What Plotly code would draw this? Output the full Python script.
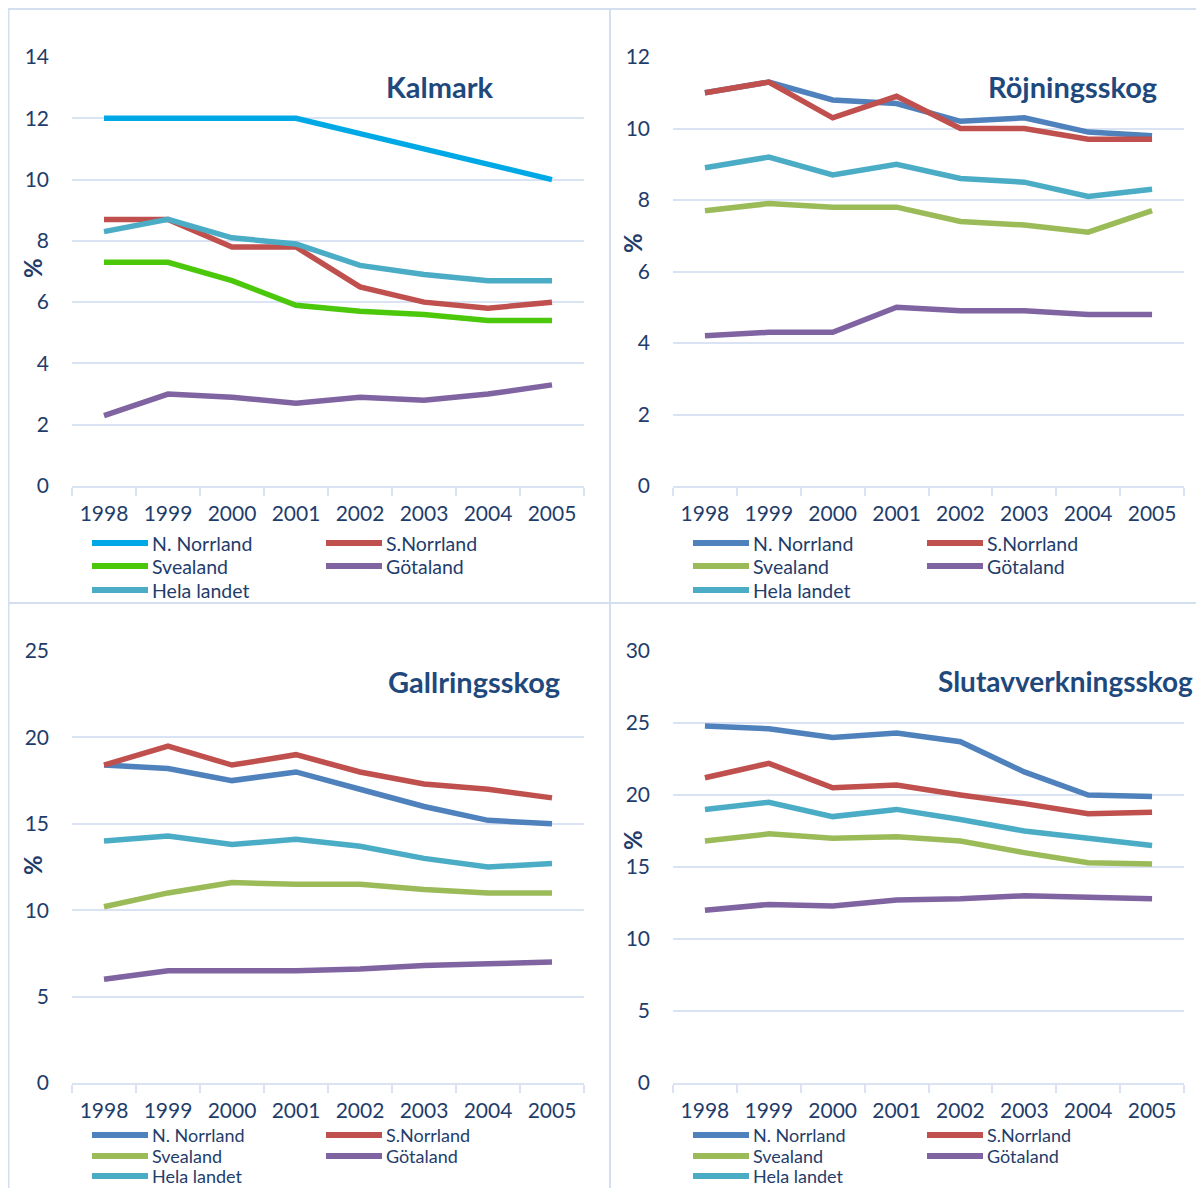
import plotly.graph_objects as go

# The page has an 8px body margin; the figure is sized to fit the window.
OFF = 8
W, H = 1204 - 2 * OFF, 1196 - 2 * OFF
MT, MB = 20, 20  # fixed top/bottom margins (autoexpand disabled)

years = ["1998", "1999", "2000", "2001", "2002", "2003", "2004", "2005"]
series_names = ["N. Norrland", "S.Norrland", "Svealand", "Götaland", "Hela landet"]

# Kalmark
kal_n_norrland = [12.0, 12.0, 12.0, 12.0, 11.5, 11.0, 10.5, 10.0]
kal_s_norrland = [8.7, 8.7, 7.8, 7.8, 6.5, 6.0, 5.8, 6.0]
kal_svealand = [7.3, 7.3, 6.7, 5.9, 5.7, 5.6, 5.4, 5.4]
kal_gotaland = [2.3, 3.0, 2.9, 2.7, 2.9, 2.8, 3.0, 3.3]
kal_hela = [8.3, 8.7, 8.1, 7.9, 7.2, 6.9, 6.7, 6.7]

# Röjningsskog
roj_n_norrland = [11.0, 11.3, 10.8, 10.7, 10.2, 10.3, 9.9, 9.8]
roj_s_norrland = [11.0, 11.3, 10.3, 10.9, 10.0, 10.0, 9.7, 9.7]
roj_svealand = [7.7, 7.9, 7.8, 7.8, 7.4, 7.3, 7.1, 7.7]
roj_gotaland = [4.2, 4.3, 4.3, 5.0, 4.9, 4.9, 4.8, 4.8]
roj_hela = [8.9, 9.2, 8.7, 9.0, 8.6, 8.5, 8.1, 8.3]

# Gallringsskog
gal_n_norrland = [18.4, 18.2, 17.5, 18.0, 17.0, 16.0, 15.2, 15.0]
gal_s_norrland = [18.4, 19.5, 18.4, 19.0, 18.0, 17.3, 17.0, 16.5]
gal_svealand = [10.2, 11.0, 11.6, 11.5, 11.5, 11.2, 11.0, 11.0]
gal_gotaland = [6.0, 6.5, 6.5, 6.5, 6.6, 6.8, 6.9, 7.0]
gal_hela = [14.0, 14.3, 13.8, 14.1, 13.7, 13.0, 12.5, 12.7]

# Slutavverkningsskog
slu_n_norrland = [24.8, 24.6, 24.0, 24.3, 23.7, 21.6, 20.0, 19.9]
slu_s_norrland = [21.2, 22.2, 20.5, 20.7, 20.0, 19.4, 18.7, 18.8]
slu_svealand = [16.8, 17.3, 17.0, 17.1, 16.8, 16.0, 15.3, 15.2]
slu_gotaland = [12.0, 12.4, 12.3, 12.7, 12.8, 13.0, 12.9, 12.8]
slu_hela = [19.0, 19.5, 18.5, 19.0, 18.3, 17.5, 17.0, 16.5]

colors_kalmark = ["#00A9E6", "#C0504D", "#4CC80A", "#8064A2", "#4BACC6"]
colors_std = ["#4F81BD", "#C0504D", "#9BBB59", "#8064A2", "#4BACC6"]

TEXT = "#1F3D6B"
GRID = "#D9E3F3"
BORDER = "#D3DEEF"
FONT = "Lato"

def px(x):
    return (x - OFF) / W

def py(y):
    # page y -> paper fraction (paper spans the area inside the margins)
    return 1 - (y - OFF - MT) / (H - MT - MB)

panels = [
    dict(title="Kalmark", data=[kal_n_norrland, kal_s_norrland, kal_svealand, kal_gotaland, kal_hela],
         colors=colors_kalmark, x0=72, x1=584, ytop=57, ybot=486, ymax=14, dtick=2,
         tx=440, tanchor="center", tsize=29, ty=86, pct=(32, 268),
         leg_x=92, leg_y=[543, 566, 590], leg_size=19.5),
    dict(title="Röjningsskog", data=[roj_n_norrland, roj_s_norrland, roj_svealand, roj_gotaland, roj_hela],
         colors=colors_std, x0=673, x1=1184, ytop=57, ybot=486, ymax=12, dtick=2,
         tx=1072, tanchor="center", tsize=29, ty=86, pct=(632, 243),
         leg_x=693, leg_y=[543, 566, 590], leg_size=19.5),
    dict(title="Gallringsskog", data=[gal_n_norrland, gal_s_norrland, gal_svealand, gal_gotaland, gal_hela],
         colors=colors_std, x0=72, x1=584, ytop=651, ybot=1083, ymax=25, dtick=5,
         tx=474, tanchor="center", tsize=29, ty=681, pct=(32, 865),
         leg_x=92, leg_y=[1135, 1156, 1176], leg_size=18),
    dict(title="Slutavverkningsskog", data=[slu_n_norrland, slu_s_norrland, slu_svealand, slu_gotaland, slu_hela],
         colors=colors_std, x0=673, x1=1184, ytop=651, ybot=1083, ymax=30, dtick=5,
         tx=936, tanchor="left", tsize=28, ty=681, pct=(632, 840),
         leg_x=693, leg_y=[1135, 1156, 1176], leg_size=18),
]

fig = go.Figure()
shapes = []
annotations = []

# panel borders
for (bx0, by0, bx1, by1) in [(8.5, 9, 610, 603), (610, 9, 1215, 603),
                             (8.5, 603, 610, 1230), (610, 603, 1215, 1230)]:
    shapes.append(dict(type="rect", xref="paper", yref="paper", x0=px(bx0), x1=px(bx1),
                       y0=py(by1), y1=py(by0), line=dict(color=BORDER, width=2), layer="below"))

layout_axes = {}
for i, p in enumerate(panels):
    n = i + 1
    xa = "x" if n == 1 else f"x{n}"
    ya = "y" if n == 1 else f"y{n}"
    for name, vals, col in zip(series_names, p["data"], p["colors"]):
        fig.add_trace(go.Scatter(x=years, y=vals, mode="lines", name=name,
                                 line=dict(color=col, width=5.5), xaxis=xa, yaxis=ya,
                                 showlegend=False))
    xkey = "xaxis" if n == 1 else f"xaxis{n}"
    ykey = "yaxis" if n == 1 else f"yaxis{n}"
    layout_axes[xkey] = dict(
        domain=[px(p["x0"]), px(p["x1"])], anchor=ya, type="category", automargin=False,
        range=[-0.5, 7.5], tickson="boundaries", ticks="outside", ticklen=8,
        tickcolor=GRID, tickwidth=2, showline=True, linecolor=GRID, linewidth=2,
        showgrid=False, zeroline=False, ticklabelstandoff=8,
        tickfont=dict(family=FONT, size=21, color=TEXT))
    layout_axes[ykey] = dict(
        domain=[py(p["ybot"]), py(p["ytop"])], anchor=xa, range=[0, p["ymax"]], automargin=False,
        dtick=p["dtick"], tick0=0, showgrid=True, gridcolor=GRID, gridwidth=2,
        zeroline=False, showline=False, ticks="", ticklabelstandoff=22,
        tickfont=dict(family=FONT, size=21, color=TEXT))
    # title
    annotations.append(dict(text=f"<b>{p['title']}</b>", xref="paper", yref="paper",
                            x=px(p["tx"]), y=py(p["ty"]), xanchor=p["tanchor"], yanchor="middle",
                            showarrow=False, font=dict(family=FONT, size=p["tsize"], color="#1F497D")))
    # % label
    annotations.append(dict(text="<b>%</b>", xref="paper", yref="paper",
                            x=px(p["pct"][0]), y=py(p["pct"][1]), xanchor="center", yanchor="middle",
                            textangle=-90, showarrow=False, font=dict(family=FONT, size=24, color=TEXT)))
    # manual legend
    for k, (name, col) in enumerate(zip(series_names, p["colors"])):
        colx = p["leg_x"] + (k % 2) * 234
        rowy = p["leg_y"][k // 2]
        shapes.append(dict(type="line", xref="paper", yref="paper",
                           x0=px(colx), x1=px(colx + 56), y0=py(rowy), y1=py(rowy),
                           line=dict(color=col, width=6)))
        annotations.append(dict(text=name, xref="paper", yref="paper",
                                x=px(colx + 58), y=py(rowy), xanchor="left", yanchor="middle",
                                showarrow=False, font=dict(family=FONT, size=p["leg_size"], color=TEXT)))

fig.update_layout(
    width=W, height=H, autosize=False,
    margin=dict(l=0, r=0, t=MT, b=MB, pad=0, autoexpand=False),
    paper_bgcolor="white", plot_bgcolor="white",
    showlegend=False, shapes=shapes, annotations=annotations,
    **layout_axes)

fig.write_html("out.html")
